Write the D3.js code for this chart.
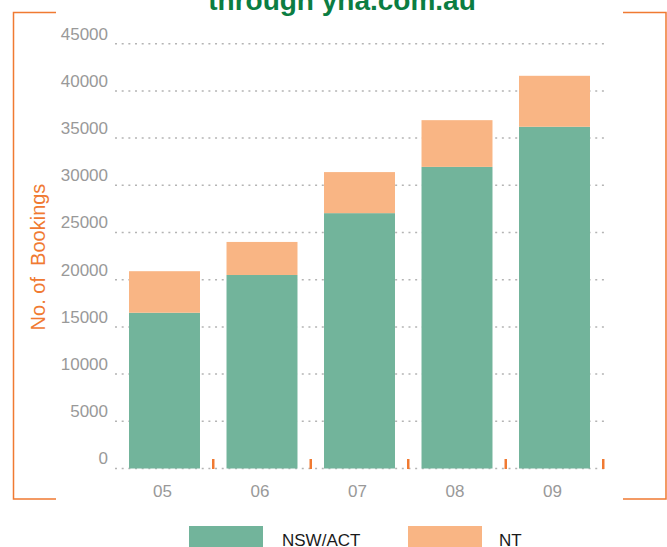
<!DOCTYPE html>
<html>
<head>
<meta charset="utf-8">
<script src="https://cdn.jsdelivr.net/npm/d3@7"></script>
<style>
  html, body { margin: 0; padding: 0; background: #fff; }
  svg { display: block; }
</style>
</head>
<body>
<svg id="chart" width="667" height="547"></svg>
<script>
const categories = ["05", "06", "07", "08", "09"];
const nswAct = [16500, 20500, 27050, 31950, 36200];
const nt = [4400, 3500, 4350, 4950, 5400];
const yTicks = [0, 5000, 10000, 15000, 20000, 25000, 30000, 35000, 40000, 45000];
const seriesNames = ["NSW/ACT", "NT"];
const colors = ["#72b49b", "#f9b584"];

const svg = d3.select("#chart");
const orange = "#f07a32";

// Title (cut off at top)
svg.append("text")
  .attr("x", 342).attr("y", 10)
  .attr("text-anchor", "middle")
  .attr("font-family", "Liberation Sans, Arial, sans-serif")
  .attr("font-weight", "bold")
  .attr("font-size", 28)
  .attr("fill", "#0b7d42")
  .text("through yha.com.au");

// Frame brackets
const frame = svg.append("g").attr("fill", "none").attr("stroke", orange).attr("stroke-width", 1.5);
frame.append("path").attr("d", "M56,12.5H13.5V499H56");
frame.append("path").attr("d", "M623,12.5H666V499H623");

const x = d3.scaleBand().domain(categories).range([115.75, 603.25]).paddingInner(0.272).paddingOuter(0.136);
const y = d3.scaleLinear().domain([0, 45000]).range([468.5, 43.7]);

// gridlines
svg.append("g").selectAll("line").data(yTicks).join("line")
  .attr("x1", 115).attr("x2", 604)
  .attr("y1", d => y(d)).attr("y2", d => y(d))
  .attr("stroke", "#b4b4b4").attr("stroke-width", 1.5)
  .attr("stroke-dasharray", "2,4.67");

// stacked data
const rows = categories.map((c, i) => ({ cat: c, "NSW/ACT": nswAct[i], "NT": nt[i] }));
const stack = d3.stack().keys(seriesNames)(rows);

svg.append("g").selectAll("g").data(stack).join("g")
  .attr("fill", (d, i) => colors[i])
  .selectAll("rect").data(d => d).join("rect")
  .attr("x", d => x(d.data.cat))
  .attr("width", x.bandwidth())
  .attr("y", d => y(d[1]))
  .attr("height", d => y(d[0]) - y(d[1]));

// Y axis labels
const yAxis = d3.axisLeft(y).tickValues(yTicks).tickSize(0).tickPadding(0).tickFormat(d3.format("d"));
const yg = svg.append("g").attr("transform", "translate(108,-10)").call(yAxis);
yg.select(".domain").remove();
yg.selectAll("text")
  .attr("font-family", "Liberation Sans, Arial, sans-serif")
  .attr("font-size", 17)
  .attr("fill", "#999");

// X axis labels and orange ticks
const xAxis = d3.axisBottom(x).tickSize(0).tickPadding(0);
const xg = svg.append("g").attr("transform", "translate(-2,485)").call(xAxis);
xg.select(".domain").remove();
xg.selectAll("text")
  .attr("font-family", "Liberation Sans, Arial, sans-serif")
  .attr("font-size", 17)
  .attr("fill", "#999");

svg.append("g").selectAll("line").data(categories).join("line")
  .attr("x1", d => x(d) + x.bandwidth() + x.step() * x.paddingInner() / 2)
  .attr("x2", d => x(d) + x.bandwidth() + x.step() * x.paddingInner() / 2)
  .attr("y1", 459).attr("y2", 469)
  .attr("stroke", orange).attr("stroke-width", 2.5);

// Y title
svg.append("text")
  .attr("transform", "translate(45,257) rotate(-90)")
  .attr("text-anchor", "middle")
  .attr("font-family", "Liberation Sans, Arial, sans-serif")
  .attr("font-size", 20)
  .attr("fill", orange)
  .style("white-space", "pre")
  .text("No. of  Bookings");

// Legend
const legendX = [189, 408];
const lg = svg.append("g").selectAll("g").data(seriesNames).join("g")
  .attr("transform", (d, i) => `translate(${legendX[i]},526)`);
lg.append("rect").attr("width", 74).attr("height", 22).attr("fill", (d, i) => colors[i]);
lg.append("text")
  .attr("x", (d, i) => i === 0 ? 93 : 91)
  .attr("y", 19.5)
  .attr("font-family", "Liberation Sans, Arial, sans-serif")
  .attr("font-size", 17)
  .attr("fill", "#1a1a1a")
  .text(d => d);
</script>
</body>
</html>
